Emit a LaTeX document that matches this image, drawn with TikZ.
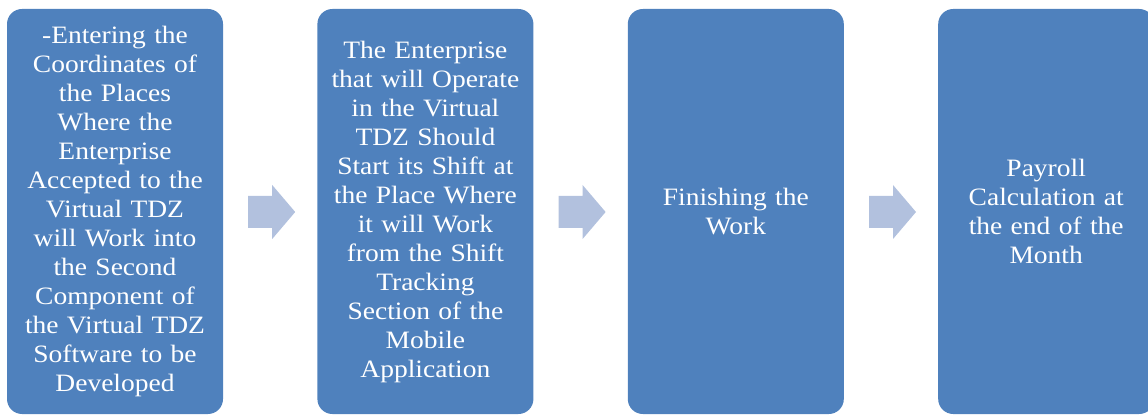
\documentclass[tikz,border=0pt]{standalone}
\usepackage{fontspec}
\setmainfont{Liberation Serif}[FakeStretch=1.1]
\usepackage{tikz}
\usetikzlibrary{calc, positioning}
\definecolor{boxblue}{RGB}{79,129,189}
\definecolor{arrowblue}{RGB}{178,193,222}

\begin{document}
\begin{tikzpicture}[
            stepbox/.style={rectangle, text=white, fill=boxblue, rounded corners=15pt, minimum height=405pt, minimum width=216pt, text width=206pt, align=center, inner sep=0pt, font=\fontsize{25}{29}\selectfont},
            flowarrow/.pic={\fill[arrowblue] (-23.5pt,-16pt) -- ++(24pt,0) -- ++(0,-11pt) -- ++(23pt,27pt) -- ++(-23pt,27pt) -- ++(0,-11pt) -- ++(-24pt,0) -- cycle;},
            ]
            \useasboundingbox (0,0) rectangle (1148pt,415pt);
            %Nodes
            \node[stepbox]      (enter)   at (115pt,203.5pt)    {-Entering the\\ Coordinates of\\ the Places\\ Where the\\ Enterprise\\ Accepted to the\\ Virtual TDZ\\ will Work into\\ the Second\\ Component of\\ the Virtual TDZ\\ Software to be\\ Developed};
            \node[stepbox]      (shift)   [right=94pt of enter] {The Enterprise\\ that will Operate\\ in the Virtual\\ TDZ Should\\ Start its Shift at\\ the Place Where\\ it will Work\\ from the Shift\\ Tracking\\ Section of the\\ Mobile\\ Application};
            \node[stepbox]      (finish)  [right=94pt of shift] {Finishing the\\ Work};
            \node[stepbox]      (payroll) [right=94pt of finish] {Payroll\\ Calculation at\\ the end of the\\ Month};

            %Arrows
            \pic (arrA) at ($(enter.east)!0.5!(shift.west)+(1.5pt,-0.5pt)$) {flowarrow};
            \pic (arrB) at ($(shift.east)!0.5!(finish.west)+(1.5pt,-0.5pt)$) {flowarrow};
            \pic (arrC) at ($(finish.east)!0.5!(payroll.west)+(1.5pt,-0.5pt)$) {flowarrow};
          \end{tikzpicture}
\end{document}
